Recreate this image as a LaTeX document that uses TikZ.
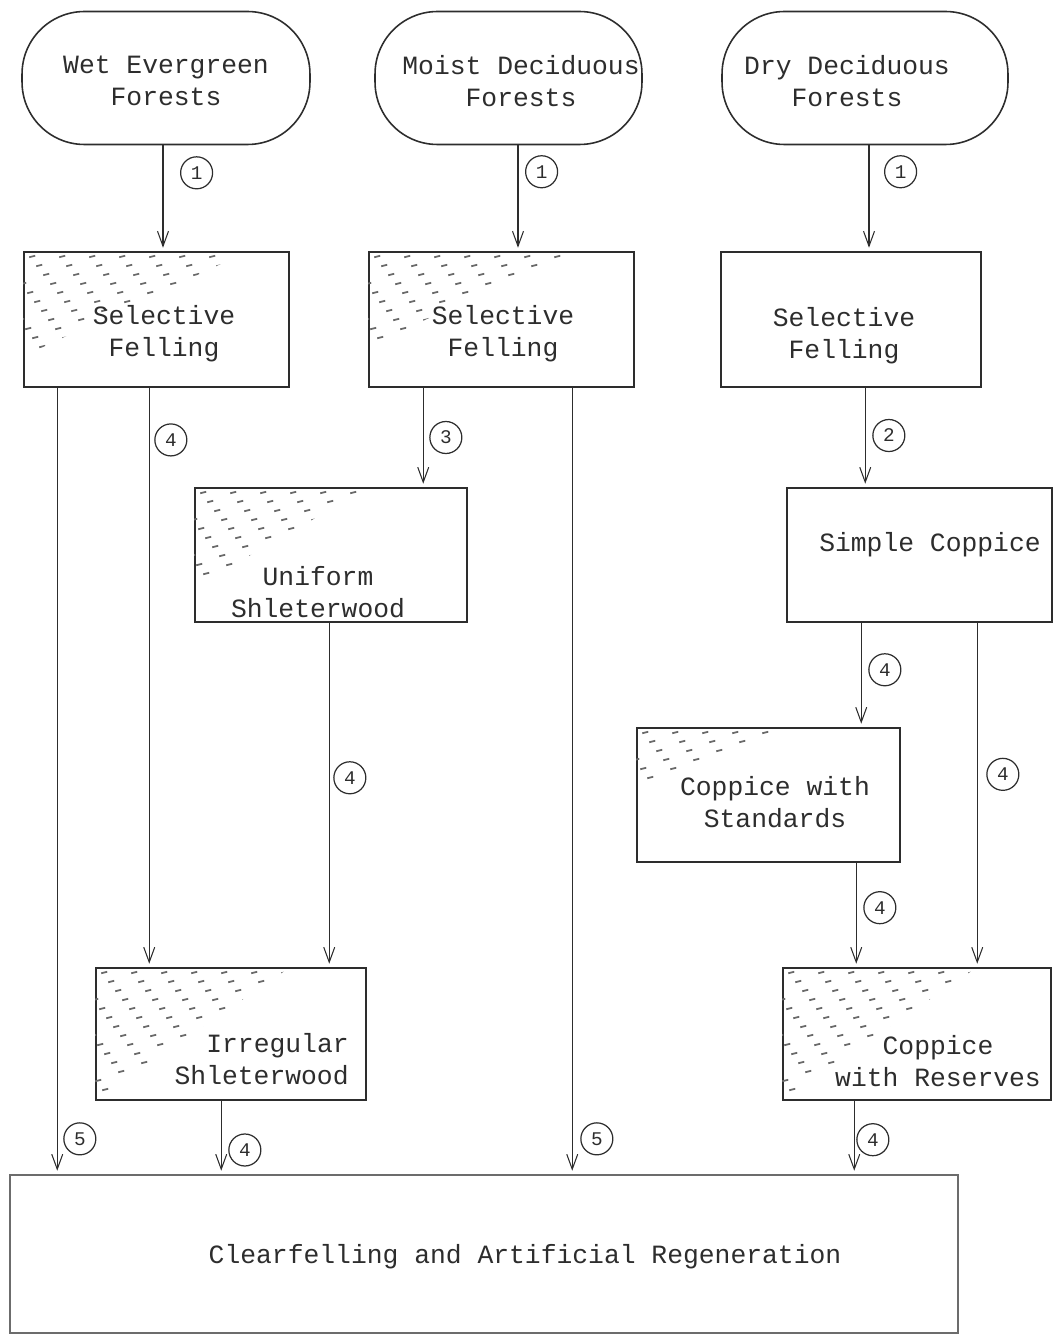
\documentclass[tikz,border=0pt]{standalone}
\usepackage{fontspec}
\newfontfamily\tw{Liberation Mono}
\usetikzlibrary{arrows.meta,calc}
\definecolor{ink}{RGB}{45,45,45}
\definecolor{hatchc}{RGB}{105,105,105}
\newcommand\hatchin[3]{%
  \begin{scope}
    \clip (#1.north west) -- ++(#2,0) -- ++(-#2,#3) -- cycle;
    \foreach \i in {-7,...,9}{\foreach \j in {0,...,15}{
      \draw[hatchline] ($(#1.north west)+(\i*30+\j*7+6,\j*9+6)$) -- ++(6,-1.5);
    }}
  \end{scope}}
\begin{document}
\begin{tikzpicture}[x=0.02cm,y=-0.02cm,color=ink,
  box/.style={draw=ink,line width=0.9pt,rectangle,inner sep=0pt},
  oval/.style={draw=ink,line width=0.9pt,rectangle,rounded corners=1.25cm,inner sep=0pt},
  txt/.style={draw=none,text=ink,font=\tw\fontsize{15}{18.3}\selectfont,align=center,inner sep=0pt},
  num/.style={draw=ink,circle,line width=0.7pt,minimum size=0.64cm,inner sep=0pt,font=\tw\fontsize{11}{11}\selectfont},
  arr/.style={draw=ink,line width=0.6pt,-{Straight Barb[length=3mm,width=2.2mm]},shorten >=2pt},
  hatchline/.style={draw=hatchc,line width=1pt}]
\useasboundingbox (0,0) rectangle (1054,1341);
% top ovals
\node[oval,minimum width=5.76cm,minimum height=2.66cm] (o1) at (166,78) {};
\node[oval,minimum width=5.34cm,minimum height=2.66cm] (o2) at (508.5,78) {};
\node[oval,minimum width=5.72cm,minimum height=2.66cm] (o3) at (865,78) {};
\node[txt] (o1t) at (166,81) {Wet Evergreen\\Forests};
\node[txt] (o2t) at (521,81) {Moist Deciduous\\Forests};
\node[txt] (o3t) at (847,81) {Dry Deciduous\\Forests};
% boxes
\node[box,minimum width=5.3cm,minimum height=2.7cm] (b1) at (156.5,319.5) {};
\node[box,minimum width=5.3cm,minimum height=2.7cm] (b2) at (501.5,319.5) {};
\node[box,minimum width=5.2cm,minimum height=2.7cm] (b3) at (851,319.5) {};
\node[box,minimum width=5.44cm,minimum height=2.68cm] (uni) at (331,555) {};
\node[box,minimum width=5.3cm,minimum height=2.68cm] (sc) at (919.5,555) {};
\node[box,minimum width=5.26cm,minimum height=2.68cm] (cws) at (768.5,795) {};
\node[box,minimum width=5.4cm,minimum height=2.64cm] (irr) at (231,1034) {};
\node[box,minimum width=5.36cm,minimum height=2.64cm] (cwr) at (917,1034) {};
\node[box,draw=ink!70,minimum width=18.96cm,minimum height=3.16cm] (bot) at (484,1254) {};
% hatching
\hatchin{b1}{225}{105}
\hatchin{b2}{205}{95}
\hatchin{uni}{175}{100}
\hatchin{cws}{155}{60}
\hatchin{irr}{195}{132}
\hatchin{cwr}{195}{132}
% texts
\node[txt] (b1t) at (164,334) {Selective\\Felling};
\node[txt] (b2t) at (503,334) {Selective\\Felling};
\node[txt] (b3t) at (844,336) {Selective\\Felling};
\node[txt] (unit) at (318,592) {Uniform\\Shleterwood};
\node[txt] (sct) at (930,545) {Simple Coppice};
\node[txt] (cwst) at (775,802) {Coppice with\\Standards};
\node[txt,align=right,anchor=east] (irrt) at (349,1059) {Irregular\\Shleterwood};
\node[txt] (cwrt) at (938,1061) {Coppice\\with Reserves};
\node[txt] (bott) at (525,1257) {Clearfelling and Artificial Regeneration};
% connectors
\draw[arr] ($(o1.south)+(-3,0)$) coordinate (s1) -- (s1 |- b1.north)
  node[num,pos=0.26,anchor=west,xshift=0.34cm] (n1) {1};
\draw[arr] ($(o2.south)+(9.5,0)$) coordinate (s2) -- (s2 |- b2.north)
  node[num,pos=0.25,anchor=west,xshift=0.14cm] (n2) {1};
\draw[arr] ($(o3.south)+(4,0)$) coordinate (s3) -- (s3 |- b3.north)
  node[num,pos=0.25,anchor=west,xshift=0.3cm] (n3) {1};
\draw[arr] ($(b1.south west)+(34,0)$) coordinate (s4) -- (s4 |- bot.north)
  node[num,pos=0.955,anchor=west,xshift=0.12cm] (n4) {5};
\draw[arr] ($(b1.south west)+(126,0)$) coordinate (s5) -- (s5 |- irr.north)
  node[num,pos=0.09,anchor=west,xshift=0.1cm] (n5) {4};
\draw[arr] ($(b2.south west)+(55,0)$) coordinate (s6) -- (s6 |- uni.north)
  node[num,pos=0.5,anchor=west,xshift=0.12cm] (n6) {3};
\draw[arr] ($(b2.south west)+(204,0)$) coordinate (s7) -- (s7 |- bot.north)
  node[num,pos=0.955,anchor=west,xshift=0.16cm] (n7) {5};
\draw[arr] ($(uni.south west)+(135,0)$) coordinate (s8) -- (s8 |- irr.north)
  node[num,pos=0.45,anchor=west,xshift=0.08cm] (n8) {4};
\draw[arr] ($(irr.south west)+(126,0)$) coordinate (s9) -- (s9 |- bot.north)
  node[num,pos=0.67,anchor=west,xshift=0.14cm] (n9) {4};
\draw[arr] ($(b3.south west)+(145,0)$) coordinate (s10) -- (s10 |- sc.north)
  node[num,pos=0.48,anchor=west,xshift=0.14cm] (n10) {2};
\draw[arr] ($(sc.south west)+(75,0)$) coordinate (s11) -- (s11 |- cws.north)
  node[num,pos=0.45,anchor=west,xshift=0.14cm] (n11) {4};
\draw[arr] ($(sc.south west)+(191,0)$) coordinate (s12) -- (s12 |- cwr.north)
  node[num,pos=0.44,anchor=west,xshift=0.18cm] (n12) {4};
\draw[arr] ($(cws.south west)+(220,0)$) coordinate (s13) -- (s13 |- cwr.north)
  node[num,pos=0.43,anchor=west,xshift=0.14cm] (n13) {4};
\draw[arr] ($(cwr.south west)+(72,0)$) coordinate (s14) -- (s14 |- bot.north)
  node[num,pos=0.53,anchor=west,xshift=0.04cm] (n14) {4};
\end{tikzpicture}
\end{document}
